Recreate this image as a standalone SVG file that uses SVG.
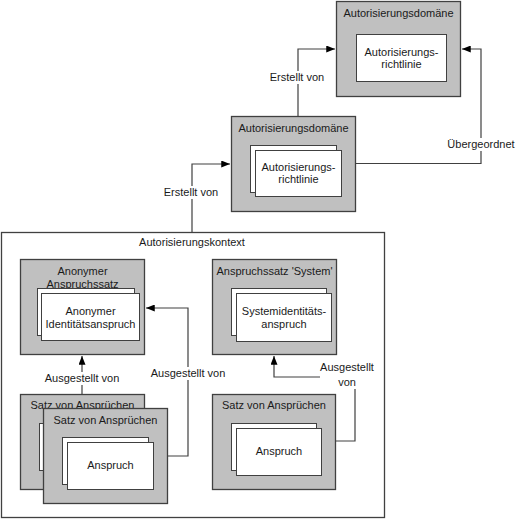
<svg xmlns="http://www.w3.org/2000/svg" width="529" height="520" viewBox="0 0 529 520">
<defs>
<marker id="arr" viewBox="0 0 10 8" refX="10" refY="4" markerWidth="9" markerHeight="7" markerUnits="userSpaceOnUse" orient="auto">
<path d="M0,0 L10,4 L0,8 z" fill="#000"/>
</marker>
</defs>
<style>
.box{fill:#c0c0c0;stroke:#404040;stroke-width:1.3}
.in{fill:#fff;stroke:#404040;stroke-width:1}
.ctx{fill:#fff;stroke:#404040;stroke-width:1.3}
text{font-family:"Liberation Sans",Arial,sans-serif;font-size:11px;fill:#1a1a1a;text-anchor:middle}
.con{fill:none;stroke:#404040;stroke-width:1.2}
.lbg{fill:#fff}
</style>
<rect width="529" height="520" fill="#fff"/>

<g id="kontext">
<rect class="ctx" x="1.5" y="232.5" width="383" height="285"/>
<text x="192" y="246">Autorisierungskontext</text>
</g>

<g id="connectors">
<path class="con" d="M298,116 V49 H335" marker-end="url(#arr)"/>
<path class="con" d="M192,232 V164 H230" marker-end="url(#arr)"/>
<path class="con" d="M356,163.5 H481 V49 H462" marker-end="url(#arr)"/>
<path class="con" d="M82,394 V356" marker-end="url(#arr)"/>
<path class="con" d="M168,456 H188 V308 H146" marker-end="url(#arr)"/>
<path class="con" d="M336,441 H355 V377 H274 V356" marker-end="url(#arr)"/>
<rect class="lbg" x="268" y="71" width="58" height="13"/>
<text x="297" y="81">Erstellt von</text>
<rect class="lbg" x="162" y="186" width="58" height="13"/>
<text x="191" y="196">Erstellt von</text>
<rect class="lbg" x="447" y="138" width="68" height="13"/>
<text x="481" y="148">Übergeordnet</text>
<rect class="lbg" x="45" y="372" width="74" height="13"/>
<text x="82" y="382">Ausgestellt von</text>
<rect class="lbg" x="151" y="367" width="74" height="13"/>
<text x="188" y="377">Ausgestellt von</text>
<rect class="lbg" x="320" y="361" width="54" height="28"/>
<text x="347" y="371">Ausgestellt</text>
<text x="347" y="386">von</text>
</g>

<g id="domaene-oben">
<rect class="box" x="336.5" y="1.5" width="124" height="95"/>
<text x="398.5" y="17">Autorisierungsdomäne</text>
<rect class="in" x="356.5" y="34.5" width="90" height="47"/>
<text x="401.5" y="56">Autorisierungs-</text>
<text x="401.5" y="68">richtlinie</text>
</g>

<g id="domaene-mitte">
<rect class="box" x="231.5" y="116.5" width="124" height="95"/>
<text x="293.5" y="132">Autorisierungsdomäne</text>
<rect class="in" x="250.5" y="145.5" width="86" height="47"/>
<rect class="in" x="255.5" y="150.5" width="86" height="46"/>
<text x="298.5" y="171">Autorisierungs-</text>
<text x="298.5" y="183">richtlinie</text>
</g>

<g id="anonymer-anspruchssatz">
<rect class="box" x="20.5" y="259.5" width="124" height="95"/>
<text x="82.5" y="275">Anonymer</text>
<text x="82.5" y="288">Anspruchssatz</text>
<rect class="in" x="37.5" y="288.5" width="97" height="47"/>
<rect class="in" x="41.5" y="293.5" width="98" height="47"/>
<text x="90.5" y="315">Anonymer</text>
<text x="90.5" y="328">Identitätsanspruch</text>
</g>

<g id="anspruchssatz-system">
<rect class="box" x="212.5" y="259.5" width="124" height="95"/>
<text x="274.5" y="275">Anspruchssatz 'System'</text>
<rect class="in" x="231.5" y="288.5" width="95" height="47"/>
<rect class="in" x="236.5" y="293.5" width="95" height="48"/>
<text x="284" y="315">Systemidentitäts-</text>
<text x="284" y="328">anspruch</text>
</g>

<g id="satz-hinten">
<rect class="box" x="20.5" y="394.5" width="124" height="95"/>
<text x="82.5" y="409">Satz von Ansprüchen</text>
<rect class="in" x="39.5" y="423.5" width="86" height="47"/>
</g>

<g id="satz-vorne">
<rect class="box" x="43.5" y="408.5" width="124" height="95"/>
<text x="105.5" y="424">Satz von Ansprüchen</text>
<rect class="in" x="62.5" y="437.5" width="86" height="47"/>
<rect class="in" x="67.5" y="442.5" width="86" height="47"/>
<text x="110.5" y="469">Anspruch</text>
</g>

<g id="satz-rechts">
<rect class="box" x="212.5" y="394.5" width="123" height="95"/>
<text x="274" y="409">Satz von Ansprüchen</text>
<rect class="in" x="231.5" y="423.5" width="85" height="47"/>
<rect class="in" x="236.5" y="428.5" width="85" height="47"/>
<text x="279" y="455">Anspruch</text>
</g>
</svg>
